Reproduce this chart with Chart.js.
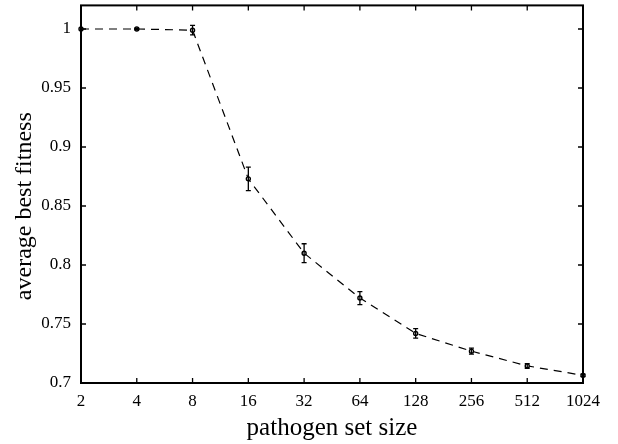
<!DOCTYPE html>
<html>
<head>
<meta charset="utf-8">
<script src="https://cdn.jsdelivr.net/npm/chart.js@4/dist/chart.umd.min.js"></script>
<style>
  html, body { margin: 0; padding: 0; background: #fff; }
  #chart { display: block; }
</style>
</head>
<body>
<canvas id="chart" width="618" height="444"></canvas>
<script>
const setSizes = ['2', '4', '8', '16', '32', '64', '128', '256', '512', '1024'];
const bestFitness = [1.0, 1.0, 0.999, 0.873, 0.810, 0.772, 0.742, 0.727, 0.7145, 0.7065];
const fitnessError = [0, 0.0005, 0.004, 0.010, 0.008, 0.0055, 0.004, 0.0025, 0.002, 0.001];
const yTicks = [0.7, 0.75, 0.8, 0.85, 0.9, 0.95, 1];

const serif = "'Liberation Serif', 'Times New Roman', serif";

// gnuplot-style frame with inward ticks on all four sides, plus error bars
const framePlugin = {
  id: 'frame',
  afterDatasetsDraw(chart) {
    const { ctx, chartArea: area, scales: { x, y } } = chart;
    const meta = chart.getDatasetMeta(0);
    ctx.save();
    ctx.strokeStyle = '#000';
    ctx.lineWidth = 1.3;
    meta.data.forEach((pt, i) => {
      const err = fitnessError[i];
      if (!err) return;
      const top = y.getPixelForValue(bestFitness[i] + err);
      const bottom = y.getPixelForValue(bestFitness[i] - err);
      ctx.beginPath();
      ctx.moveTo(pt.x, top);
      ctx.lineTo(pt.x, bottom);
      ctx.moveTo(pt.x - 2.5, top);
      ctx.lineTo(pt.x + 2.5, top);
      ctx.moveTo(pt.x - 2.5, bottom);
      ctx.lineTo(pt.x + 2.5, bottom);
      ctx.stroke();
    });

    const len = 5;
    ctx.beginPath();
    x.ticks.forEach((t, i) => {
      const px = x.getPixelForTick(i);
      ctx.moveTo(px, area.bottom);
      ctx.lineTo(px, area.bottom - len);
      ctx.moveTo(px, area.top);
      ctx.lineTo(px, area.top + len);
    });
    y.ticks.forEach((t, i) => {
      const py = y.getPixelForTick(i);
      ctx.moveTo(area.left, py);
      ctx.lineTo(area.left + len, py);
      ctx.moveTo(area.right, py);
      ctx.lineTo(area.right - len, py);
    });
    ctx.stroke();

    ctx.lineWidth = 2;
    ctx.strokeRect(area.left, area.top, area.right - area.left, area.bottom - area.top);
    ctx.restore();
  },
};

new Chart(document.getElementById('chart'), {
  type: 'line',
  data: {
    labels: setSizes,
    datasets: [{
      data: bestFitness,
      borderColor: '#000',
      borderWidth: 1.2,
      borderDash: [8, 6],
      tension: 0,
      fill: false,
      pointStyle: 'circle',
      pointRadius: 2,
      pointBorderWidth: 1.4,
      pointBorderColor: '#000',
      pointBackgroundColor: '#fff',
    }],
  },
  options: {
    responsive: false,
    animation: false,
    layout: { padding: { left: 0, right: 35, top: 5, bottom: 0 } },
    plugins: {
      legend: { display: false },
      tooltip: { enabled: false },
    },
    scales: {
      x: {
        type: 'category',
        offset: false,
        grid: { display: false, drawTicks: false },
        border: { display: false },
        ticks: {
          color: '#000',
          font: { family: serif, size: 17 },
          padding: 8,
          maxRotation: 0,
          autoSkip: false,
        },
        title: {
          display: true,
          text: 'pathogen set size',
          color: '#000',
          font: { family: serif, size: 25 },
          padding: { top: 0, bottom: 1 },
        },
        afterFit(scale) {
          scale.height = 61;
          scale.paddingLeft = 0;
          scale.paddingRight = 0;
        },
      },
      y: {
        min: 0.7,
        max: 1.02,
        grid: { display: false, drawTicks: false },
        border: { display: false },
        afterBuildTicks(scale) { scale.ticks = yTicks.map(v => ({ value: v })); },
        ticks: {
          color: '#000',
          font: { family: serif, size: 17 },
          padding: 10,
          callback: v => String(v),
        },
        title: {
          display: true,
          // trailing spaces nudge the rotated title down a bit, like the original
          text: 'average best fitness    ',
          color: '#000',
          font: { family: serif, size: 24 },
          padding: { top: 10, bottom: 0 },
        },
        afterFit(scale) {
          scale.width = 81;
          scale.paddingTop = 0;
          scale.paddingBottom = 0;
        },
      },
    },
  },
  plugins: [framePlugin],
});
</script>
</body>
</html>
